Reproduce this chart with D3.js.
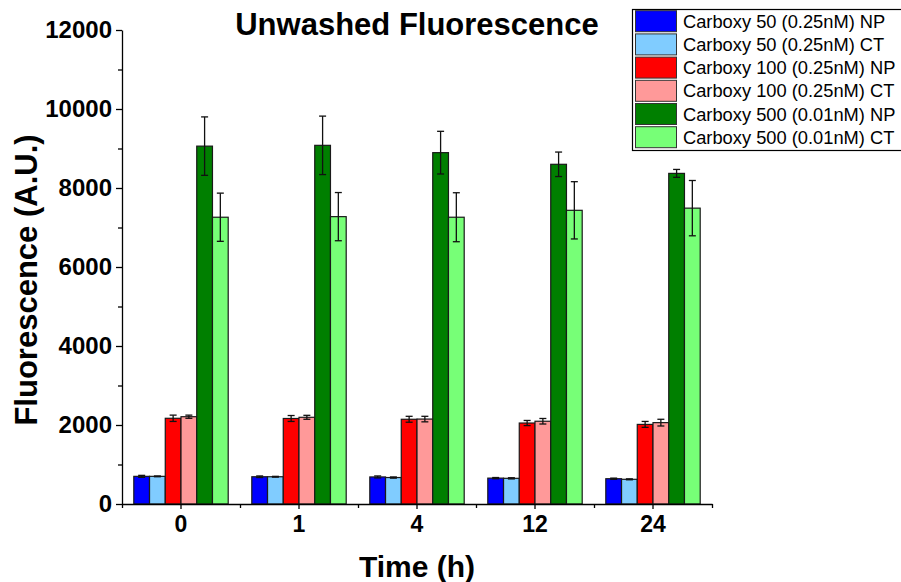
<!DOCTYPE html>
<html>
<head>
<meta charset="utf-8">
<script src="https://cdn.jsdelivr.net/npm/d3@7"></script>
<style>
  body { margin: 0; background: #fff; }
  svg { display: block; font-family: Arial, "Liberation Sans", sans-serif; }
</style>
</head>
<body>
<svg id="chart" width="901" height="582"></svg>
<script>
var times = ['0', '1', '4', '12', '24'];
var seriesNames = [
    'Carboxy 50 (0.25nM) NP',
    'Carboxy 50 (0.25nM) CT',
    'Carboxy 100 (0.25nM) NP',
    'Carboxy 100 (0.25nM) CT',
    'Carboxy 500 (0.01nM) NP',
    'Carboxy 500 (0.01nM) CT'
];
var seriesColors = ['#0000ff', '#80ccff', '#ff0000', '#ff9999', '#007f00', '#77ff77'];

var c50NP = [700, 690, 685, 655, 640];
var c50NPErr = [25, 20, 25, 15, 15];
var c50CT = [700, 690, 670, 650, 625];
var c50CTErr = [10, 10, 15, 15, 12];
var c100NP = [2170, 2165, 2145, 2050, 2015];
var c100NPErr = [80, 75, 75, 65, 75];
var c100CT = [2210, 2195, 2150, 2095, 2060];
var c100CTErr = [40, 50, 70, 70, 85];
var c500NP = [9060, 9080, 8895, 8600, 8370];
var c500NPErr = [740, 740, 540, 310, 100];
var c500CT = [7260, 7275, 7260, 7435, 7490];
var c500CTErr = [610, 610, 620, 725, 700];

var seriesValues = [c50NP, c50CT, c100NP, c100CT, c500NP, c500CT];
var seriesErrors = [c50NPErr, c50CTErr, c100NPErr, c100CTErr, c500NPErr, c500CTErr];

var yMajor = [0, 2000, 4000, 6000, 8000, 10000, 12000];

var svg = d3.select('#chart');
var plotLeft = 122, plotRight = 712, plotTop = 30, plotBottom = 504;

var x = d3.scaleBand().domain(times).range([plotLeft, plotRight]).padding(0);
var xInner = d3.scaleBand().domain(d3.range(seriesNames.length))
    .range([x.bandwidth() * 0.1, x.bandwidth() * 0.9]).padding(0);
var y = d3.scaleLinear().domain([0, 12000]).range([plotBottom, plotTop]);

// bars
var groups = svg.append('g').selectAll('g')
    .data(times)
    .join('g')
    .attr('transform', function (d) { return 'translate(' + x(d) + ',0)'; });

groups.each(function (t, ti) {
    var g = d3.select(this);
    for (var s = 0; s < seriesNames.length; s++) {
        var v = seriesValues[s][ti];
        g.append('rect')
            .attr('x', xInner(s))
            .attr('y', y(v))
            .attr('width', xInner.bandwidth())
            .attr('height', y(0) - y(v))
            .attr('fill', seriesColors[s])
            .attr('stroke', '#1a1a1a')
            .attr('stroke-width', 1.2);
    }
    for (var s2 = 0; s2 < seriesNames.length; s2++) {
        var v2 = seriesValues[s2][ti];
        var e = seriesErrors[s2][ti];
        var cx = xInner(s2) + xInner.bandwidth() / 2;
        var eg = g.append('g').attr('stroke', '#111').attr('stroke-width', 1.3);
        eg.append('line').attr('x1', cx).attr('x2', cx).attr('y1', y(v2 + e)).attr('y2', y(v2 - e));
        eg.append('line').attr('x1', cx - 3.5).attr('x2', cx + 3.5).attr('y1', y(v2 + e)).attr('y2', y(v2 + e));
        eg.append('line').attr('x1', cx - 3.5).attr('x2', cx + 3.5).attr('y1', y(v2 - e)).attr('y2', y(v2 - e));
    }
});

// y axis
var yAxis = svg.append('g')
    .attr('transform', 'translate(' + plotLeft + ',0)')
    .call(d3.axisLeft(y).tickValues(yMajor).tickSize(6).tickPadding(4).tickSizeOuter(0).tickFormat(d3.format('d')));
yAxis.append('g')
    .call(d3.axisLeft(y).tickValues(d3.range(1000, 12000, 2000)).tickSize(4).tickFormat(''))
    .select('.domain').remove();
yAxis.selectAll('text')
    .attr('font-size', 24)
    .attr('font-weight', 'bold')
    .attr('fill', '#000')
    .attr('font-family', 'Arial, "Liberation Sans", sans-serif');

// x axis
var xAxis = svg.append('g')
    .attr('transform', 'translate(0,' + plotBottom + ')')
    .call(d3.axisBottom(x).tickSize(5).tickPadding(7).tickSizeOuter(0));
xAxis.append('g')
    .call(d3.axisBottom(d3.scaleLinear().domain([0, 5]).range([plotLeft, plotRight]))
        .tickValues([0, 1, 2, 3, 4, 5]).tickSize(4).tickFormat(''))
    .select('.domain').remove();
xAxis.selectAll('text')
    .attr('font-size', 23)
    .attr('font-weight', 'bold')
    .attr('fill', '#000')
    .attr('font-family', 'Arial, "Liberation Sans", sans-serif');
svg.selectAll('.domain, .tick line').attr('stroke', '#000').attr('stroke-width', 1.3);

// titles
svg.append('text')
    .attr('x', (plotLeft + plotRight) / 2)
    .attr('y', 35)
    .attr('text-anchor', 'middle')
    .attr('font-size', 31)
    .attr('font-weight', 'bold')
    .text('Unwashed Fluorescence');

svg.append('text')
    .attr('x', (plotLeft + plotRight) / 2)
    .attr('y', 577)
    .attr('text-anchor', 'middle')
    .attr('font-size', 30)
    .attr('font-weight', 'bold')
    .text('Time (h)');

svg.append('text')
    .attr('transform', 'translate(37,280) rotate(-90)')
    .attr('text-anchor', 'middle')
    .attr('font-size', 31)
    .attr('font-weight', 'bold')
    .text('Fluorescence (A.U.)');

// legend
var legend = svg.append('g').attr('class', 'legend');
legend.append('rect')
    .attr('x', 632.5).attr('y', 9.5)
    .attr('width', 280).attr('height', 141)
    .attr('fill', '#fff').attr('stroke', '#000').attr('stroke-width', 1.2);
var rowH = 23.2;
seriesNames.forEach(function (name, i) {
    var ry = 10.7 + i * rowH;
    legend.append('rect')
        .attr('x', 635.5).attr('y', ry)
        .attr('width', 41).attr('height', 21)
        .attr('fill', seriesColors[i])
        .attr('stroke', '#333').attr('stroke-width', 1);
    legend.append('text')
        .attr('x', 683)
        .attr('y', ry + 10.5)
        .attr('dominant-baseline', 'central')
        .attr('font-size', 18.3)
        .text(name);
});
</script>
</body>
</html>
